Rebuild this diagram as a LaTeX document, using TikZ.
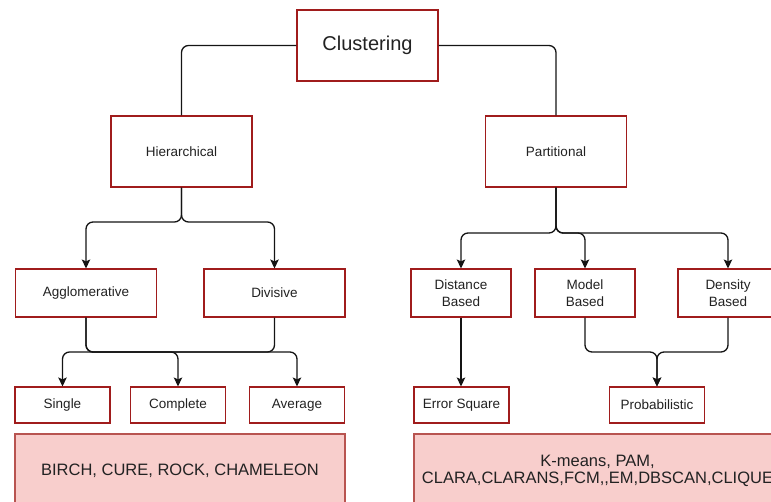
\documentclass[tikz,border=0pt]{standalone}
\usepackage{fontspec}
\setmainfont{Liberation Sans}
\usetikzlibrary{arrows.meta}
\definecolor{boxline}{HTML}{A01C1C}
\definecolor{pinkfill}{HTML}{F8CECC}
\definecolor{pinkline}{HTML}{B85450}
\definecolor{wire}{HTML}{141414}
\definecolor{ink}{HTML}{222222}
\begin{document}
\begin{tikzpicture}[x=1pt,y=-1pt,
  box/.style={draw=boxline, line width=1.1pt, fill=white, text=ink, inner sep=0pt,
    align=center, font=\fontsize{13.5}{17}\selectfont},
  top/.style={box, minimum width=141pt, minimum height=71pt},
  mid/.style={box, minimum width=141pt, minimum height=48pt},
  midnarrow/.style={box, minimum width=100pt, minimum height=48pt},
  leaf/.style={box, minimum width=95pt, minimum height=36pt},
  wide/.style={draw=pinkline, fill=pinkfill, line width=1.1pt, text=ink, inner sep=0pt,
    align=center, minimum height=73pt, font=\fontsize{16.5}{17}\selectfont},
  link/.style={draw=wire, line width=1.3pt, rounded corners=7pt},
  arr/.style={link, -{Stealth[length=9pt,width=8.5pt,inset=2pt]}}
]
\useasboundingbox (0,0) rectangle (771,501);
\clip (0,0) rectangle (771,501);

% levels of the junction lines
\coordinate (hs) at (0,222);
\coordinate (ps) at (0,233);
\coordinate (ms) at (0,352);

% root and first level
\node[top, font=\fontsize{20}{24}\selectfont] (clus) at (367.5,45.5) {Clustering};
\node[top] (hier) at (181.5,151.5) {Hierarchical};
\node[top] (part) at (556,151.5) {Partitional};

% second level
\node[mid] (agg) at (86,293) {Agglomerative};
\node[mid] (div) at (274.5,293) {Divisive};
\node[midnarrow] (dist) at (461,293) {Distance\\Based};
\node[midnarrow] (model) at (585,293) {Model\\Based};
\node[midnarrow] (dens) at (728,293) {Density\\Based};

% leaves
\node[leaf] (single) at (62.5,405) {Single};
\node[leaf] (complete) at (178,405) {Complete};
\node[leaf] (average) at (297,405) {Average};
\node[leaf] (err) at (461.5,405) {Error Square};
\node[leaf] (prob) at (657,405) {Probabilistic};

% algorithm lists
\node[wide, minimum width=330pt] (hieralg) at (180,470.5) {BIRCH, CURE, ROCK, CHAMELEON};
\node[wide, minimum width=367pt] (partalg) at (597.5,470.5)
  {K-means, PAM,\\CLARA,CLARANS,FCM,{},EM,DBSCAN,CLIQUE};

% connectors
\draw[link] (clus.west) -| (hier.north);
\draw[link] (clus.east) -| (part.north);

\draw[arr] (hier.south) -- (hier.south |- hs) -| (agg.north);
\draw[arr] (hier.south) -- (hier.south |- hs) -| (div.north);

\draw[arr] (part.south) -- (part.south |- ps) -| (dist.north);
\draw[arr] (part.south) -- (part.south |- ps) -| (model.north);
\draw[arr] (part.south) -- (part.south |- ps) -| (dens.north);

\draw[arr] (agg.south) -- (agg.south |- ms) -| (average.north);
\draw[arr] (agg.south) -- (agg.south |- ms) -| (complete.north);
\draw[arr] (div.south) -- (div.south |- ms) -| (single.north);

\draw[arr] (dist.south) -- (dist.south |- err.north);

\draw[arr] (model.south) -- (model.south |- ms) -| (prob.north);
\draw[arr] (dens.south) -- (dens.south |- ms) -| (prob.north);
\end{tikzpicture}
\end{document}
